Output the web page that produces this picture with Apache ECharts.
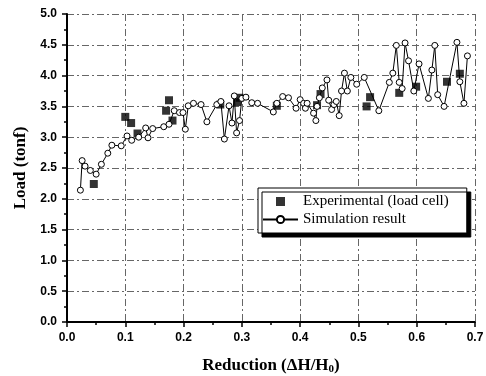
<!DOCTYPE html>
<html>
<head>
    <meta charset="utf-8">
    <title>Load vs Reduction</title>
    <script src="https://cdn.jsdelivr.net/npm/echarts@6/dist/echarts.min.js"></script>
    <style>
        html, body { margin: 0; padding: 0; background: #fff; }
        #chart1 { width: 486px; height: 376px; }
    </style>
</head>
<body>
<div id="chart1"></div>
<script type="text/javascript">
    // simulation result [reduction, load]
    var simReduction = [0.023,0.026,0.031,0.040,0.050,0.059,0.070,0.077,0.093,0.103,0.111,0.123,0.135,0.139,0.147,0.166,0.175,0.184,0.193,0.199,
        0.203,0.208,0.217,0.230,0.240,0.257,0.264,0.270,0.278,0.283,0.287,0.291,0.296,0.300,0.307,0.317,0.327,0.354,0.360,0.370,
        0.380,0.393,0.400,0.406,0.409,0.412,0.423,0.427,0.429,0.433,0.438,0.446,0.449,0.454,0.458,0.462,0.467,0.471,0.476,0.481,
        0.487,0.497,0.510,0.535,0.553,0.559,0.565,0.570,0.575,0.580,0.586,0.595,0.604,0.620,0.626,0.631,0.636,0.647,0.669,0.674,
        0.681,0.687];
    var simLoad = [2.14,2.62,2.53,2.46,2.40,2.56,2.74,2.87,2.86,3.02,2.95,3.00,3.15,2.99,3.14,3.17,3.21,3.43,3.40,3.40,
        3.13,3.51,3.55,3.53,3.25,3.53,3.58,2.97,3.51,3.23,3.67,3.07,3.27,3.63,3.65,3.56,3.55,3.41,3.55,3.66,
        3.64,3.47,3.61,3.55,3.47,3.55,3.39,3.27,3.50,3.64,3.80,3.93,3.60,3.45,3.53,3.58,3.35,3.75,4.04,3.75,
        3.97,3.86,3.97,3.43,3.89,4.04,4.49,3.89,3.79,4.53,4.24,3.75,4.19,3.63,4.09,4.49,3.69,3.50,4.54,3.90,
        3.55,4.32];

    // experimental (load cell)
    var expReduction = [0.046,0.100,0.110,0.121,0.170,0.175,0.181,0.263,0.292,0.296,0.360,0.429,0.435,0.514,0.520,0.570,0.599,0.652,0.674];
    var expLoad = [2.24,3.33,3.23,3.06,3.43,3.60,3.27,3.53,3.57,3.64,3.51,3.52,3.70,3.50,3.65,3.72,3.82,3.90,4.03];

    function pairs(xs, ys) {
        var out = [];
        for (var i = 0; i < xs.length; i++) out.push([xs[i], ys[i]]);
        return out;
    }

    var gridLine = { color: '#666', width: 1, type: [7, 3, 2, 3] };
    var labelFont = { fontFamily: 'Liberation Sans', fontWeight: 'bold', fontSize: 12, color: '#000' };

    var myChart1 = echarts.init(document.getElementById('chart1'));
    myChart1.setOption({
        animation: false,
        grid: { left: 67, right: 11, top: 14, bottom: 54, outerBoundsMode: 'none' },
        legend: {
            left: 258, top: 188,
            orient: 'vertical',
            backgroundColor: '#fff',
            borderColor: '#000', borderWidth: 1,
            shadowColor: '#000', shadowBlur: 0, shadowOffsetX: 4, shadowOffsetY: 4,
            padding: [6, 18, 6, 4],
            itemGap: 3,
            itemWidth: 35, itemHeight: 9,
            itemTextGap: 5,
            textStyle: { fontFamily: 'Liberation Serif', fontSize: 15, color: '#000' },
            data: [
                { name: 'Experimental (load cell)', icon: 'path://M0,0L1,0L1,1L0,1Z' },
                { name: 'Simulation result' }
            ]
        },
        xAxis: {
            type: 'value', min: 0, max: 0.7, interval: 0.1,
            name: 'Reduction (ΔH/H{sub|0})',
            nameLocation: 'middle', nameGap: 34,
            nameTextStyle: {
                fontFamily: 'Liberation Serif', fontWeight: 'bold', fontSize: 17, color: '#000',
                rich: { sub: { fontFamily: 'Liberation Serif', fontWeight: 'bold', fontSize: 11, verticalAlign: 'bottom', padding: [8, 0, 0, 0] } }
            },
            axisLine: { lineStyle: { color: '#000', width: 2 } },
            axisTick: { inside: false, length: 5, lineStyle: { color: '#000', width: 1.5 } },
            minorTick: { show: true, splitNumber: 2, length: 3, lineStyle: { color: '#000', width: 1.5 } },
            axisLabel: Object.assign({ margin: 10, formatter: function (v) { return v.toFixed(1); } }, labelFont),
            splitLine: { show: true, lineStyle: gridLine }
        },
        yAxis: {
            type: 'value', min: 0, max: 5, interval: 0.5,
            name: 'Load (tonf)',
            nameLocation: 'middle', nameGap: 38,
            nameTextStyle: { fontFamily: 'Liberation Serif', fontWeight: 'bold', fontSize: 17, color: '#000' },
            axisLine: { show: true, lineStyle: { color: '#000', width: 2 } },
            axisTick: { show: true, inside: false, length: 5, lineStyle: { color: '#000', width: 1.5 } },
            minorTick: { show: true, splitNumber: 2, length: 3, lineStyle: { color: '#000', width: 1.5 } },
            axisLabel: Object.assign({ margin: 10, formatter: function (v) { return v.toFixed(1); } }, labelFont),
            splitLine: { show: true, lineStyle: gridLine }
        },
        series: [
            {
                name: 'Experimental (load cell)',
                type: 'scatter',
                symbol: 'rect', symbolSize: 8,
                itemStyle: { color: '#000' },
                z: 3,
                data: pairs(expReduction, expLoad)
            },
            {
                name: 'Simulation result',
                type: 'line',
                symbol: 'circle', symbolSize: 6,
                showAllSymbol: true,
                lineStyle: { color: '#000', width: 1 },
                itemStyle: { color: '#fff', borderColor: '#000', borderWidth: 1 },
                z: 4,
                data: pairs(simReduction, simLoad)
            }
        ]
    });
</script>
</body>
</html>
